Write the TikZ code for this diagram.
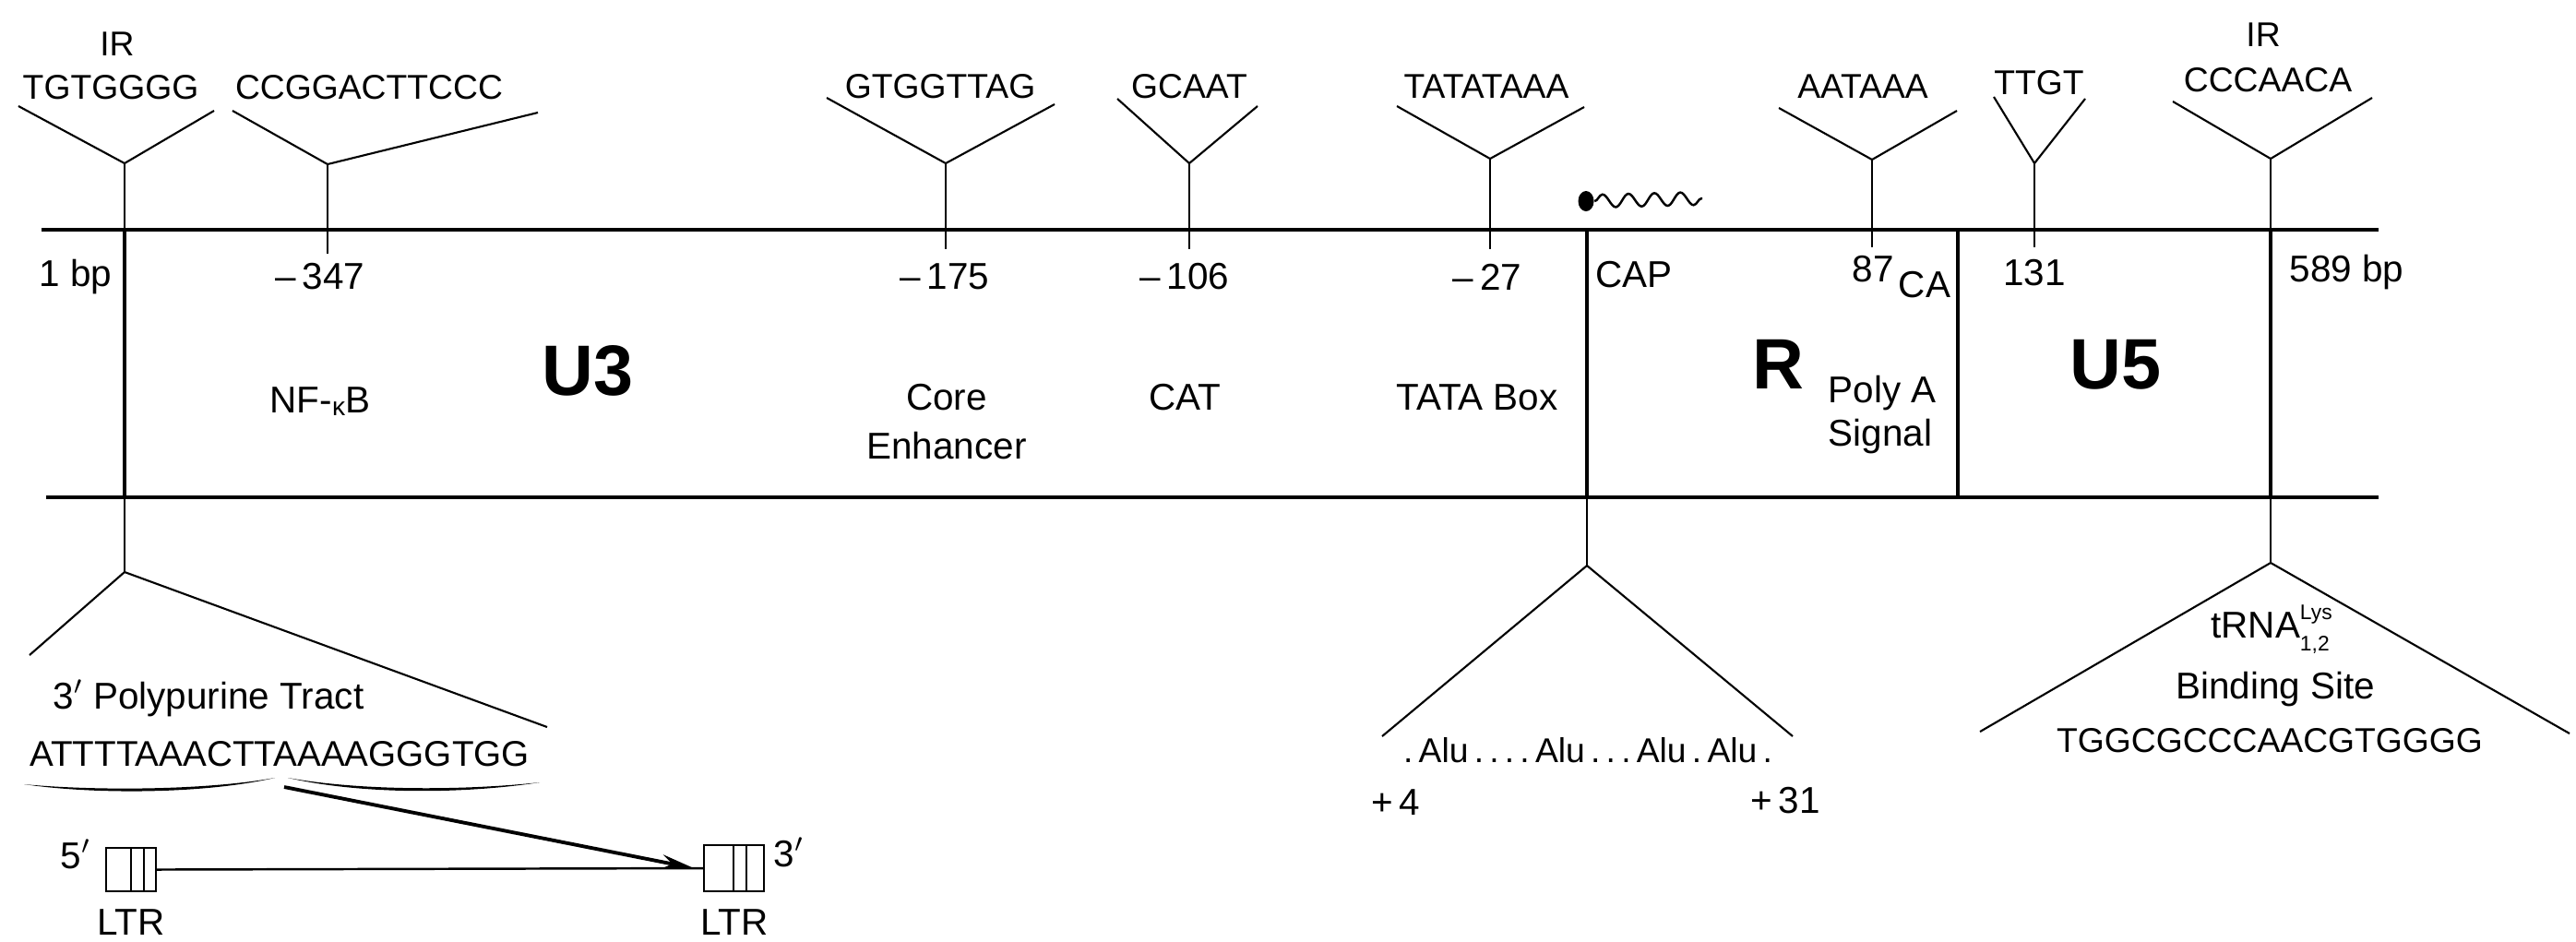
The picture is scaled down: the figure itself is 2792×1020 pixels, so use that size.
\documentclass[tikz,border=0pt]{standalone}
\usepackage{fontspec}
\setmainfont{Liberation Sans}
\usetikzlibrary{arrows.meta,decorations.pathmorphing,shapes.geometric}
\newcommand\tinysz{\fontsize{6.5}{7}\selectfont}
\begin{document}
\begin{tikzpicture}[x=0.01cm,y=-0.01cm,
  seq/.style={font=\fontsize{10.6}{12}\selectfont, inner sep=0pt},
  lab/.style={font=\fontsize{11.5}{13}\selectfont, inner sep=0pt},
  big/.style={font=\fontsize{22}{26}\selectfont\bfseries, inner sep=0pt},
  mainline/.style={line width=1.3pt},
  boxline/.style={line width=1pt},
  arm/.style={line width=0.6pt},
  ltrbox/.style={draw, line width=0.6pt, rectangle, inner sep=0pt}]
\useasboundingbox (0,0) rectangle (2792,1020);

% ---- main horizontal lines ----
\coordinate (TL) at (45,249);  \coordinate (TR) at (2578,249);
\coordinate (BL) at (50,539);  \coordinate (BR) at (2578,539);
\draw[mainline] (TL) -- (TR);
\draw[mainline] (BL) -- (BR);

% ---- region boundaries ----
\coordinate (x1t) at (135,249);  \coordinate (x1b) at (135,539);
\coordinate (xct) at (1720,249); \coordinate (xcb) at (1720,539);
\coordinate (xrt) at (2122,249); \coordinate (xrb) at (2122,539);
\coordinate (x5t) at (2461,249); \coordinate (x5b) at (2461,539);
\draw[boxline] (x1t) -- (x1b);
\draw[boxline] (xct) -- (xcb);
\draw[boxline] (xrt) -- (xrb);
\draw[boxline] (x5t) -- (x5b);

% ---- upper Y markers ----
% IR left
\coordinate (aL1) at (20,115); \coordinate (aR1) at (232,120); \coordinate (aT1) at (135,177);
\draw[arm] (aL1) -- (aT1) -- (aR1); \draw[arm] (aT1) -- (x1t);
% -347
\coordinate (aL2) at (252,120); \coordinate (aR2) at (583,122); \coordinate (aT2) at (355,178); \coordinate (aB2) at (355,275);
\draw[arm] (aL2) -- (aT2) -- (aR2); \draw[arm] (aT2) -- (aB2);
% -175
\coordinate (aL3) at (896,106); \coordinate (aR3) at (1143,113); \coordinate (aT3) at (1025,177); \coordinate (aB3) at (1025,270);
\draw[arm] (aL3) -- (aT3) -- (aR3); \draw[arm] (aT3) -- (aB3);
% -106
\coordinate (aL4) at (1211,107); \coordinate (aR4) at (1363,115); \coordinate (aT4) at (1289,177); \coordinate (aB4) at (1289,270);
\draw[arm] (aL4) -- (aT4) -- (aR4); \draw[arm] (aT4) -- (aB4);
% -27
\coordinate (aL5) at (1514,115); \coordinate (aR5) at (1717,116); \coordinate (aT5) at (1615,172); \coordinate (aB5) at (1615,270);
\draw[arm] (aL5) -- (aT5) -- (aR5); \draw[arm] (aT5) -- (aB5);
% 87
\coordinate (aL6) at (1928,117); \coordinate (aR6) at (2121,120); \coordinate (aT6) at (2029,173); \coordinate (aB6) at (2029,268);
\draw[arm] (aL6) -- (aT6) -- (aR6); \draw[arm] (aT6) -- (aB6);
% 131
\coordinate (aL7) at (2161,105); \coordinate (aR7) at (2260,107); \coordinate (aT7) at (2205,177); \coordinate (aB7) at (2205,268);
\draw[arm] (aL7) -- (aT7) -- (aR7); \draw[arm] (aT7) -- (aB7);
% IR right
\coordinate (aL8) at (2355,110); \coordinate (aR8) at (2571,106); \coordinate (aT8) at (2461,172);
\draw[arm] (aL8) -- (aT8) -- (aR8); \draw[arm] (aT8) -- (x5t);

% ---- lower inverted Y markers ----
\coordinate (bT1) at (135,620); \coordinate (bL1) at (32,710); \coordinate (bR1) at (593,788);
\draw[arm] (x1b) -- (bT1); \draw[arm] (bL1) -- (bT1) -- (bR1);
\coordinate (bT2) at (1720,613); \coordinate (bL2) at (1498,798); \coordinate (bR2) at (1943,798);
\draw[arm] (xcb) -- (bT2); \draw[arm] (bL2) -- (bT2) -- (bR2);
\coordinate (bT3) at (2461,610); \coordinate (bL3) at (2146,793); \coordinate (bR3) at (2785,795);
\draw[arm] (x5b) -- (bT3); \draw[arm] (bL3) -- (bT3) -- (bR3);

% ---- cap symbol ----
\node (capdot) [ellipse, fill, inner sep=0pt, minimum width=0.17cm, minimum height=0.22cm] at (1719,218) {};
\coordinate (capend) at (1845,215);
\draw[line width=0.7pt, decorate, decoration={snake, segment length=8pt, amplitude=2pt}] (capdot.east) -- (capend);

% ---- top sequences ----
\node[seq] (ir1) at (127,48) {IR};
\node[seq] (s1) at (120,95) {TGTGGGG};
\node[seq] (s2) at (400,95) {CCGGACTTCCC};
\node[seq] (s3) at (1019,94) {GTGGTTAG};
\node[seq] (s4) at (1289,94) {GCAAT};
\node[seq] (s5) at (1611,94) {TATATAAA};
\node[seq] (s6) at (2019,94) {AATAAA};
\node[seq] (s7) at (2210,90) {TTGT};
\node[seq] (ir2) at (2453,38) {IR};
\node[seq] (s8) at (2458,87) {CCCAACA};

% ---- positions ----
\node[lab, anchor=west] (p1) at (42,300) {1 bp};
\node[lab] (p2) at (347,300) {–\,347};
\node[lab] (p3) at (1024,300) {–\,175};
\node[lab] (p4) at (1284,300) {–\,106};
\node[lab] (p5) at (1612,300) {–\,27};
\node[lab, anchor=west] (p6) at (1729,298) {CAP};
\node[lab] (p7) at (2030,292) {87};
\node[lab] (p7b) at (2086,309) {CA};
\node[lab] (p8) at (2205,296) {131};
\node[lab, anchor=west] (p9) at (2481,295) {589 bp};

% ---- region names ----
\node[big] (u3) at (637,402) {U3};
\node[big] (rr) at (1927,395) {R};
\node[big] (u5) at (2293,395) {U5};

% ---- feature labels ----
\node[lab] (f1) at (347,435) {NF-\raisebox{-1pt}{\fontsize{8}{8}\selectfont κ}B};
\node[lab] (f2a) at (1026,431) {Core};
\node[lab] (f2b) at (1026,483) {Enhancer};
\node[lab] (f3) at (1284,431) {CAT};
\node[lab] (f4) at (1601,431) {TATA Box};
\node[lab] (f5a) at (2040,426) {Poly A};
\node[lab] (f5b) at (2038,473) {Signal};

% ---- lower left ----
\node[lab] (ppt) at (226,757) {3$'$ Polypurine Tract};
\node[font=\fontsize{11}{13}\selectfont, inner sep=0pt] (pptseq) at (303,817) {ATTTTAAACTTAAAAGGGTGG};
\fill (26,850) .. controls (100,857) and (220,857) .. (298,843) .. controls (220,861) and (100,861) .. (26,850) -- cycle;
\fill (312,843) .. controls (390,857) and (500,857) .. (585,848) .. controls (500,861) and (390,861) .. (312,843) -- cycle;
\node[ltrbox, minimum width=0.54cm, minimum height=0.47cm] (ltrL) at (142,942.5) {};
\draw[line width=0.6pt] (142,919) -- (142,966) (156,919) -- (156,966);
\node[ltrbox, minimum width=0.65cm, minimum height=0.50cm] (ltrR) at (795.5,941) {};
\draw[line width=0.6pt] (795,916) -- (795,966) (809,916) -- (809,966);
\draw[line width=0.7pt] (ltrL.east) -- (ltrR.west);
\coordinate (arrS) at (308,853);
\coordinate (arrE) at (752,941);
\draw[line width=1.1pt, -{Stealth[length=10pt,width=4.5pt]}] (arrS) -- (arrE);
\node[lab] (five) at (82,926) {5$'$};
\node[lab] (three) at (855,924) {3$'$};
\node[lab] (ltr1) at (142,1000) {LTR};
\node[lab] (ltr2) at (796,1000) {LTR};

% ---- lower middle ----
\node[seq] (alu) at (1721,813) {.\,Alu\,.\,.\,.\,.\,Alu\,.\,.\,.\,Alu\,.\,Alu\,.};
\node[lab] (plus4) at (1513,870) {+\,4};
\node[lab] (plus31) at (1935,868) {+\,31};

% ---- lower right ----
\node[lab] (trna) at (2462,682) {tRNA\raisebox{-4pt}{\rlap{\tinysz 1,2}}\raisebox{5.5pt}{\tinysz Lys}};
\node[lab] (bs) at (2466,747) {Binding Site};
\node[seq] (trseq) at (2460,803) {TGGCGCCCAACGTGGGG};
\end{tikzpicture}
\end{document}
